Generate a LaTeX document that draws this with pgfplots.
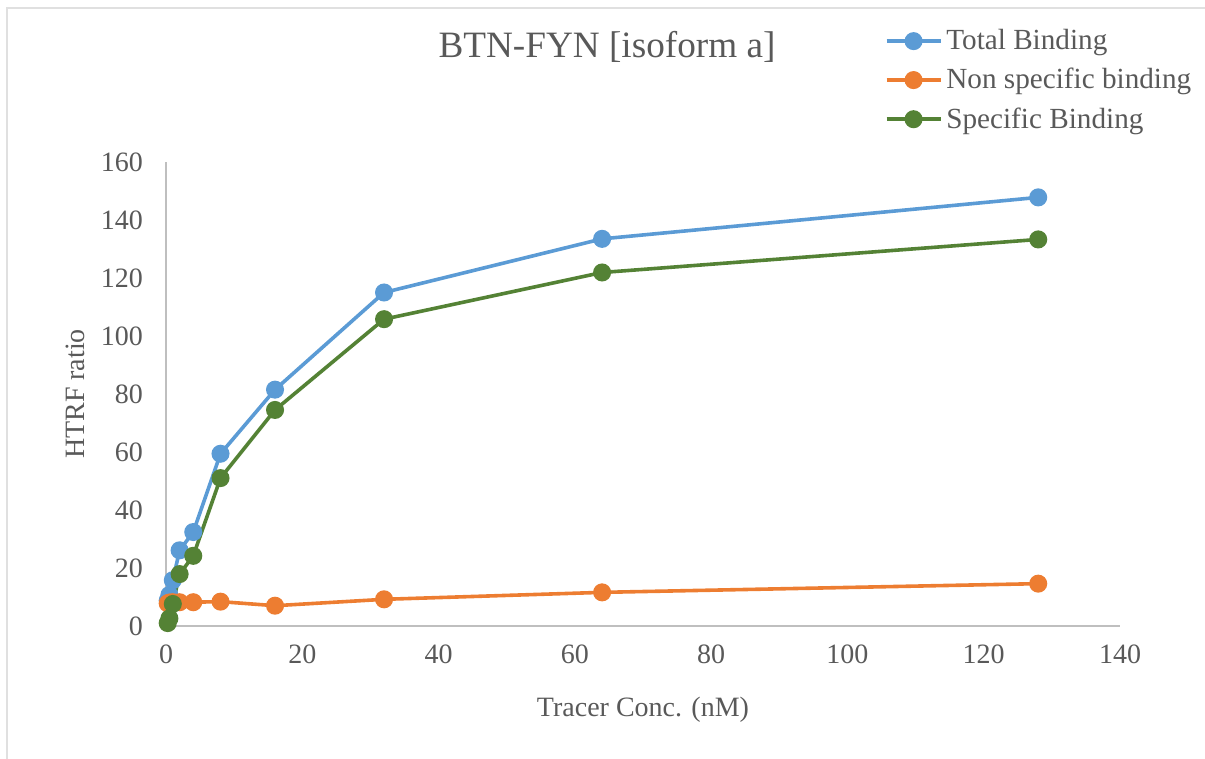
\documentclass[border=0pt]{standalone}
\usepackage{fontspec}
\setmainfont{Liberation Serif}
\usepackage{pgfplots}
\pgfplotsset{compat=1.18}

\definecolor{totblue}{HTML}{5B9BD5}
\definecolor{nsorange}{HTML}{ED7D31}
\definecolor{spgreen}{HTML}{548235}
\definecolor{axgray}{HTML}{BFBFBF}
\definecolor{txtgray}{HTML}{595959}

\begin{document}
\begin{tikzpicture}
    % page frame: 1 px of the reference = 0.5bp
    \useasboundingbox (-83bp,-66.5bp) rectangle (519.5bp,313bp);
    \draw[color=black!12, line width=1bp] (-79.5bp,-66.5bp) -- (-79.5bp,309bp) -- (519.5bp,309bp);

    \begin{axis}[
        at={(0,0)}, anchor=south west,
        scale only axis,
        width=477bp, height=232bp,
        xmin=0, xmax=140,
        ymin=0, ymax=160,
        xtick={0,20,...,140},
        ytick={0,20,...,160},
        axis x line*=bottom,
        axis y line*=left,
        axis line style={-, draw=axgray, line width=1bp},
        major tick length=0pt,
        /pgf/number format/assume math mode=true,
        tick label style={font=\fontsize{14bp}{16bp}\selectfont, text=txtgray},
        xticklabel style={yshift=-6bp},
        yticklabel style={xshift=-8bp},
        xlabel={Tracer Conc. (nM)},
        ylabel={HTRF ratio},
        label style={font=\fontsize{14bp}{16bp}\selectfont, text=txtgray},
        xlabel style={at={(axis description cs:0.5,0)}, anchor=center, yshift=-42bp},
        ylabel style={at={(axis description cs:0,0.5)}, anchor=center, xshift=0bp, yshift=45.5bp},
        legend style={
            at={(rel axis cs:0.753,1.295)}, anchor=north west,
            draw=none, fill=none,
            font=\fontsize{14.6bp}{17bp}\selectfont, text=txtgray,
            row sep=3.8bp, inner sep=0pt,
            legend cell align=left,
        },
        legend image code/.code={
            \draw[mark repeat=2, mark phase=2] plot coordinates {(0bp,0bp) (13.5bp,0bp) (27bp,0bp)};
        },
        every axis plot/.append style={line width=1.8bp, mark=*, mark size=3.6bp},
        clip=false,
    ]
    \addplot[color=totblue, mark options={fill=totblue, draw=totblue}] coordinates {
        (0.25,8.8) (0.5,10.7) (1,15.8) (2,26.1) (4,32.4) (8,59.4)
        (16,81.5) (32,115.0) (64,133.5) (128,147.8)
    };
    \addlegendentry{Total Binding}
    \addplot[color=nsorange, mark options={fill=nsorange, draw=nsorange}] coordinates {
        (0.25,7.8) (0.5,8.1) (1,8.2) (2,8.2) (4,8.2) (8,8.4)
        (16,7.0) (32,9.2) (64,11.6) (128,14.6)
    };
    \addlegendentry{Non specific binding}
    \addplot[color=spgreen, mark options={fill=spgreen, draw=spgreen}] coordinates {
        (0.25,1.0) (0.5,2.6) (1,7.6) (2,17.9) (4,24.2) (8,51.0)
        (16,74.5) (32,105.8) (64,121.9) (128,133.3)
    };
    \addlegendentry{Specific Binding}
    \end{axis}

    \node[text=txtgray, font=\fontsize{18.6bp}{22bp}\selectfont] at (220.5bp,289.5bp) {BTN-FYN [isoform a]};
\end{tikzpicture}
\end{document}
